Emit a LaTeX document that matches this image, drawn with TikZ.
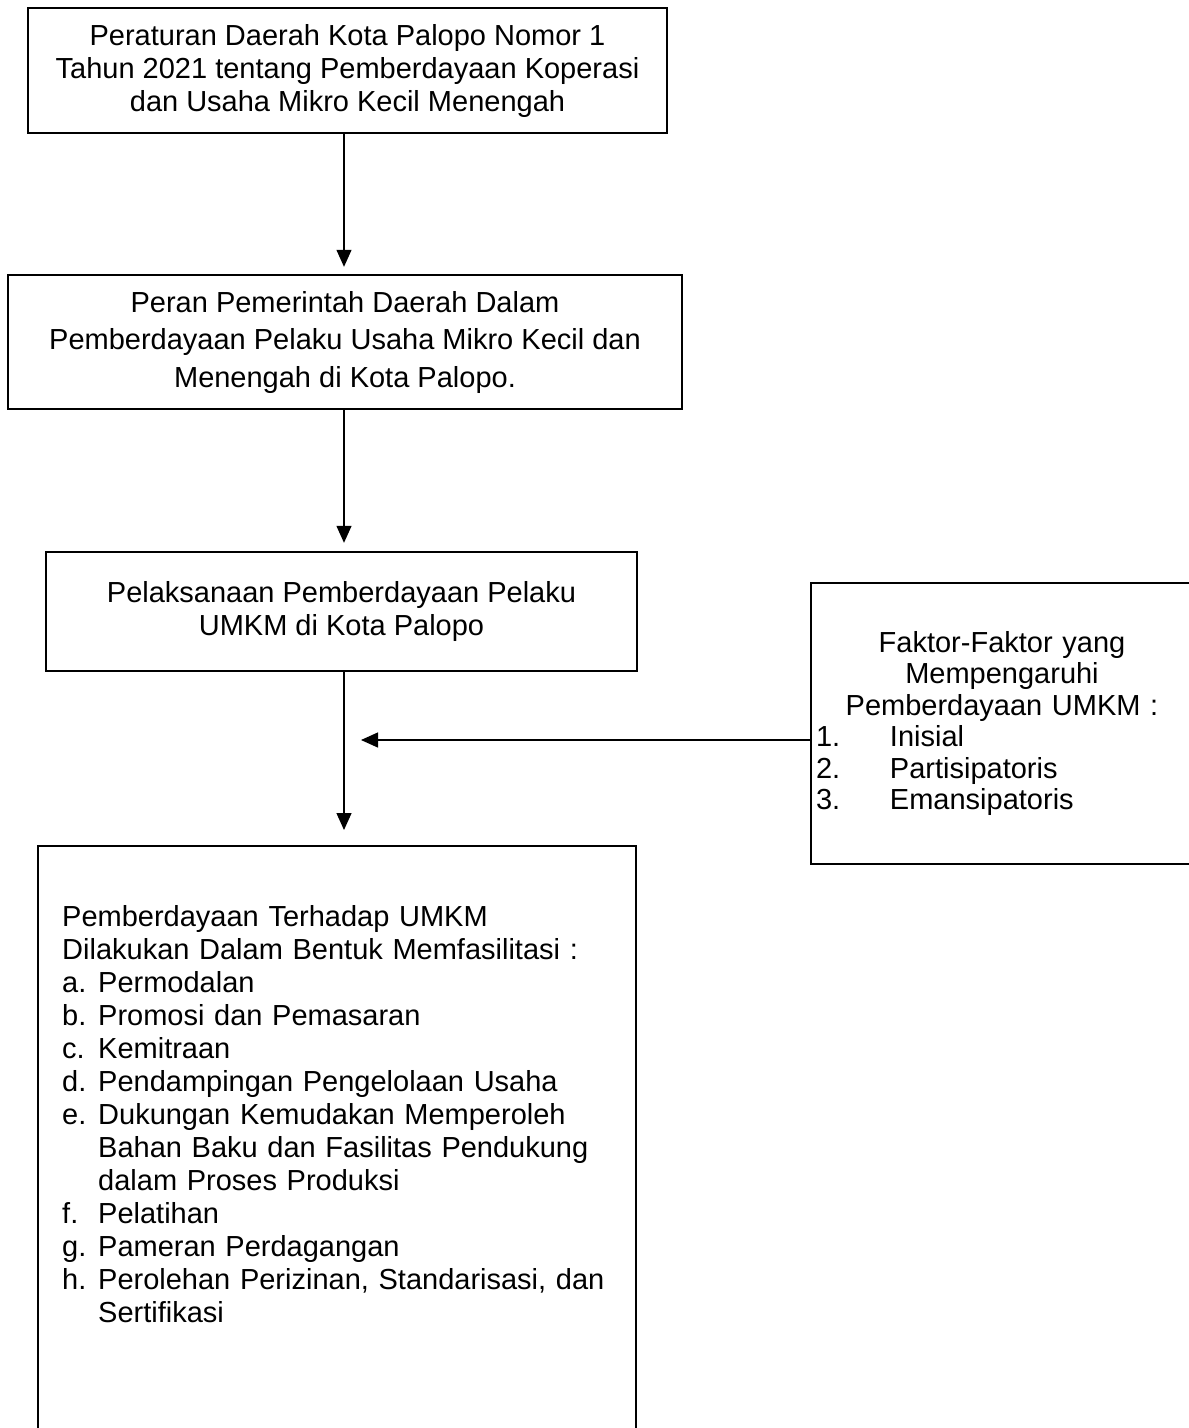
\documentclass[tikz,border=0pt]{standalone}
\usepackage{fontspec}
\setmainfont{Liberation Sans}
\usetikzlibrary{arrows.meta, positioning}

\begin{document}
\begin{tikzpicture}[x=1pt, y=-1pt,
    box/.style={draw, line width=2.4pt, inner sep=5pt, align=center, font=\fontsize{29}{33}\selectfont},
    flow/.style={-{Triangle[length=17pt, width=15pt]}, line width=1.3pt},
    ]
    \useasboundingbox (0,0) rectangle (1189,1428);

    % Peraturan daerah (top)
    \node[box, minimum width=639pt, minimum height=125pt] (perda) at (347.5,70.5)
        {Peraturan Daerah Kota Palopo Nomor 1\\Tahun 2021 tentang Pemberdayaan Koperasi\\dan Usaha Mikro Kecil Menengah};

    % Peran pemerintah daerah
    \node[box, minimum width=674pt, minimum height=134pt, font=\fontsize{29}{37.5}\selectfont] (peran) at (345,342)
        {Peran Pemerintah Daerah Dalam\\Pemberdayaan Pelaku Usaha Mikro Kecil dan\\Menengah di Kota Palopo.};

    % Pelaksanaan pemberdayaan
    \node[box, minimum width=591pt, minimum height=119pt] (pelaksanaan) at (341.5,611.5)
        {Pelaksanaan Pemberdayaan Pelaku\\UMKM di Kota Palopo};

    % Faktor-faktor (right), cut at the right edge
    \node[box, minimum width=382pt, minimum height=281pt, text width=372pt, align=left,
          font=\fontsize{29}{31.5}\selectfont] (faktor) at (1002,723.5)
        {{\centering Faktor-Faktor yang\\Mempengaruhi\\Pemberdayaan UMKM :\par}
         \makebox[74pt][l]{1.}Inisial\\
         \makebox[74pt][l]{2.}Partisipatoris\\
         \makebox[74pt][l]{3.}Emansipatoris};

    % Bentuk fasilitasi (bottom), open at the lower edge
    \node[box, minimum width=598pt, minimum height=610pt, anchor=north] (fasilitasi) at (337,845) {};
    \node[anchor=north west, inner sep=0pt, text width=570pt, align=left,
          font=\fontsize{29}{33}\selectfont] (daftar) at (62,905)
        {Pemberdayaan Terhadap UMKM\\
         Dilakukan Dalam Bentuk Memfasilitasi :\\
         \makebox[36pt][l]{a.}Permodalan\\
         \makebox[36pt][l]{b.}Promosi dan Pemasaran\\
         \makebox[36pt][l]{c.}Kemitraan\\
         \makebox[36pt][l]{d.}Pendampingan Pengelolaan Usaha\\
         \makebox[36pt][l]{e.}Dukungan Kemudakan Memperoleh\\
         \hspace*{36pt}Bahan Baku dan Fasilitas Pendukung\\
         \hspace*{36pt}dalam Proses Produksi\\
         \makebox[36pt][l]{f.}Pelatihan\\
         \makebox[36pt][l]{g.}Pameran Perdagangan\\
         \makebox[36pt][l]{h.}Perolehan Perizinan, Standarisasi, dan\\
         \hspace*{36pt}Sertifikasi};

    % Arrows along the spine
    \coordinate (spine) at (344,0);
    \coordinate (masuk) at (361,740);
    \draw[flow, shorten >=7pt] (spine |- perda.south) -- (spine |- peran.north);
    \draw[flow, shorten >=8pt] (spine |- peran.south) -- (spine |- pelaksanaan.north);
    \draw[flow, shorten >=15pt] (spine |- pelaksanaan.south) -- (spine |- fasilitasi.north);
    \draw[flow] (faktor.west |- masuk) -- (masuk);
\end{tikzpicture}
\end{document}
